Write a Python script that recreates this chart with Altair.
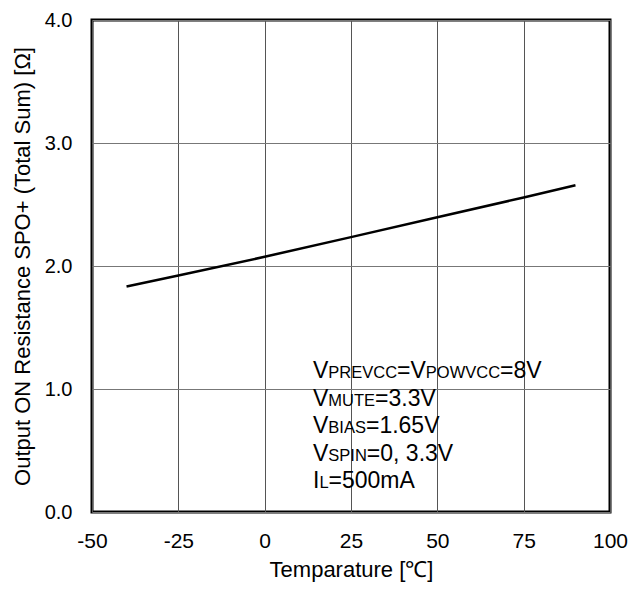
import altair as alt
import pandas as pd

# ---- data ----
temps = [-40, -25, 0, 25, 50, 75, 90]
resist = [1.834, 1.922, 2.075, 2.235, 2.397, 2.557, 2.656]

x_ticks = [-50, -25, 0, 25, 50, 75, 100]
y_ticks = [0, 1, 2, 3, 4]

x_title = "Temparature [℃]"
y_title = "Output ON Resistance SPO+ (Total Sum) [Ω]"

# annotation: (text, is_subscript)
note_lines = [
    [("V", 0), ("PREVCC", 1), ("=V", 0), ("POWVCC", 1), ("=8V", 0)],
    [("V", 0), ("MUTE", 1), ("=3.3V", 0)],
    [("V", 0), ("BIAS", 1), ("=1.65V", 0)],
    [("V", 0), ("SPIN", 1), ("=0, 3.3V", 0)],
    [("I", 0), ("L", 1), ("=500mA", 0)],
]

# ---- layout / style ----
FONT = "Liberation Sans"
LEFT, RIGHT, TOP, BOTTOM = 92, 610, 20, 512
W, H = RIGHT - LEFT, BOTTOM - TOP
MAIN, SUB = 23, 16.5
NOTE_X, NOTE_DY = 313 - LEFT, 27.5
NOTE_Y0 = 378 - TOP

# Arial advance widths (em)
AW = {"V": .667, "P": .667, "R": .722, "E": .667, "C": .722, "O": .778, "W": .944,
      "M": .833, "U": .722, "T": .611, "B": .667, "I": .278, "A": .667, "S": .667,
      "N": .722, "L": .556, "=": .584, ".": .278, ",": .278, " ": .278, "m": .833}


def text_width(s, size):
    return sum(AW.get(ch, .556) for ch in s) * size


rows = []
for i, line in enumerate(note_lines):
    x = NOTE_X
    for txt, sub in line:
        size = SUB if sub else MAIN
        rows.append({"t": txt, "px": x, "py": NOTE_Y0 + i * NOTE_DY, "sub": sub})
        x += text_width(txt, size)
notes = pd.DataFrame(rows)

df = pd.DataFrame({"temp": temps, "r": resist})

xscale = alt.Scale(domain=[x_ticks[0], x_ticks[-1]], nice=False, zero=False)
yscale = alt.Scale(domain=[y_ticks[0], y_ticks[-1]], nice=False, zero=False)

common = dict(grid=True, gridWidth=1, ticks=False, domain=False,
              labelFont=FONT, titleFont=FONT, labelColor="black",
              titleColor="black", titleFontWeight="normal", labelFlush=False)

line = alt.Chart(df).mark_line(color="black", strokeWidth=2.5).encode(
    x=alt.X("temp:Q", scale=xscale,
            axis=alt.Axis(values=x_ticks, title=x_title,
                          labelExpr="'' + datum.value",
                          gridColor="#555", labelPadding=18, titlePadding=8,
                          labelFontSize=21, titleFontSize=22, **common)),
    y=alt.Y("r:Q", scale=yscale,
            axis=alt.Axis(values=y_ticks, title=y_title, format=".1f",
                          gridColor="#777", labelPadding=20, titlePadding=10,
                          labelFontSize=20, titleFontSize=22, **common)),
)

main_txt = alt.Chart(notes).transform_filter("datum.sub == 0").mark_text(
    align="left", baseline="alphabetic", font=FONT, fontSize=MAIN, color="black"
).encode(x=alt.X("px:Q", scale=None), y=alt.Y("py:Q", scale=None), text="t:N")

sub_txt = alt.Chart(notes).transform_filter("datum.sub == 1").mark_text(
    align="left", baseline="alphabetic", font=FONT, fontSize=SUB, color="black"
).encode(x=alt.X("px:Q", scale=None), y=alt.Y("py:Q", scale=None), text="t:N")

chart = alt.layer(line, main_txt, sub_txt).properties(
    width=W, height=H,
    autosize=alt.AutoSizeParams(type="none"),
    padding={"left": LEFT - 8, "top": TOP - 8, "right": 628 - RIGHT, "bottom": 75},
    background="white",
).configure_view(stroke="black", strokeWidth=3)

chart.save("out.html", embed_options={"renderer": "svg", "actions": False})
